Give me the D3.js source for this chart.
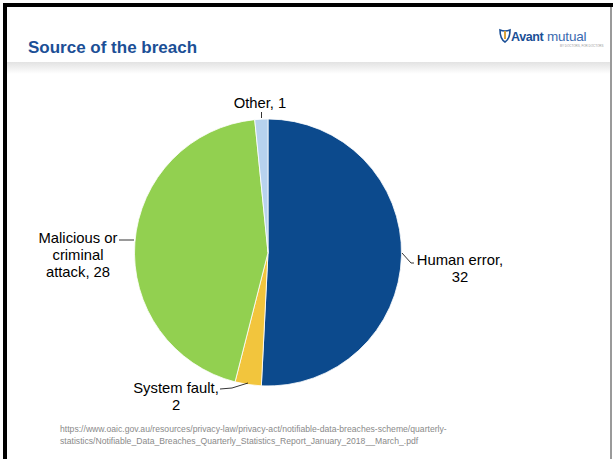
<!DOCTYPE html>
<html>
<head>
<meta charset="utf-8">
<script src="https://cdn.jsdelivr.net/npm/d3@7/dist/d3.min.js"></script>
<style>
  body { margin: 0; background: #fff; }
  svg { display: block; font-family: "Liberation Sans", Arial, sans-serif; }
</style>
</head>
<body>
<div id="chart"></div>
<script>
const categories = ["Human error", "System fault", "Malicious or criminal attack", "Other"];
const values = [32, 2, 28, 1];
const colors = ["#0c4a8d", "#f2c53d", "#92d050", "#b7d2ee"];

const W = 613, H = 459;

const svg = d3.select("#chart")
  .append("svg")
  .attr("width", W)
  .attr("height", H);

// frame + header
const defs = svg.append("defs");
const grad = defs.append("linearGradient")
  .attr("id", "hdr")
  .attr("x1", 0).attr("y1", 0).attr("x2", 0).attr("y2", 1);
grad.append("stop").attr("offset", "0%").attr("stop-color", "#e2e2e2");
grad.append("stop").attr("offset", "100%").attr("stop-color", "#ffffff");

svg.append("rect").attr("x", 0).attr("y", 0).attr("width", W).attr("height", H).attr("fill", "#fff");
svg.append("rect").attr("x", 7).attr("y", 62).attr("width", W - 9).attr("height", 12).attr("fill", "url(#hdr)");
svg.append("rect").attr("x", 3).attr("y", 3).attr("width", W - 3).attr("height", 4).attr("fill", "#000");
svg.append("rect").attr("x", 3).attr("y", 3).attr("width", 4).attr("height", H - 3).attr("fill", "#000");
svg.append("rect").attr("x", 610).attr("y", 7).attr("width", 2).attr("height", H - 7).attr("fill", "#9a9a9a");

svg.append("text")
  .attr("x", 28)
  .attr("y", 53)
  .attr("font-size", 17)
  .attr("font-weight", "bold")
  .attr("fill", "#1b4f96")
  .text("Source of the breach");

// logo
const logo = svg.append("g").attr("transform", "translate(500,30)");
logo.append("path")
  .attr("d", "M0,0 Q0,9 5,12 Q10,9 10,0 Q5,2 0,0 Z")
  .attr("fill", "none")
  .attr("stroke", "#1b4f96")
  .attr("stroke-width", 1.6);
logo.append("rect").attr("x", 4).attr("y", 1).attr("width", 2).attr("height", 8).attr("fill", "#d9a23a");
logo.append("text")
  .attr("x", 11)
  .attr("y", 11)
  .attr("font-size", 12.5)
  .attr("font-weight", "bold")
  .attr("letter-spacing", -0.4)
  .attr("fill", "#1b4f96")
  .text("Avant");
logo.append("text")
  .attr("x", 47)
  .attr("y", 11)
  .attr("font-size", 13.5)
  .attr("fill", "#3a6bb0")
  .attr("letter-spacing", -0.2)
  .text("mutual");
logo.append("text")
  .attr("x", 60)
  .attr("y", 17)
  .attr("font-size", 3)
  .attr("fill", "#999")
  .text("BY DOCTORS, FOR DOCTORS");

// pie
const cx = 268, cy = 252.5, r = 133.5;
const pie = d3.pie().sort(null).value(d => d);
const arcs = pie(values);
const arc = d3.arc().innerRadius(0).outerRadius(r);

const g = svg.append("g").attr("transform", `translate(${cx},${cy})`);
g.selectAll("path")
  .data(arcs)
  .enter()
  .append("path")
  .attr("d", arc)
  .attr("fill", (d, i) => colors[i])
  .attr("stroke", "#fff")
  .attr("stroke-width", 0.8);

// labels with leader lines
const labels = [
  { lines: ["Human error,", "32"], x: 460, y: 265, line: [[402, 253], [411, 263], [414, 263]] },
  { lines: ["System fault,", "2"], x: 176, y: 393, line: [[248, 383], [232, 388], [220, 389]] },
  { lines: ["Malicious or", "criminal", "attack, 28"], x: 78, y: 243, line: [[134, 240], [119, 240]] },
  { lines: ["Other, 1"], x: 260, y: 108, line: [[261.5, 118], [261.5, 112]] }
];

const fs = 14.8;
labels.forEach((lab, i) => {
  svg.append("path")
    .attr("d", d3.line()(lab.line))
    .attr("fill", "none")
    .attr("stroke", "#000")
    .attr("stroke-width", 0.8);
  const t = svg.append("text")
    .attr("text-anchor", "middle")
    .attr("font-size", fs)
    .attr("fill", "#000");
  lab.lines.forEach((s, k) => {
    t.append("tspan")
      .attr("x", lab.x)
      .attr("y", lab.y + k * 17.2)
      .text(s);
  });
});

// source
const src = svg.append("text")
  .attr("font-size", 8.65)
  .attr("fill", "#8a8a8a");
src.append("tspan").attr("x", 60).attr("y", 432)
  .text("https://www.oaic.gov.au/resources/privacy-law/privacy-act/notifiable-data-breaches-scheme/quarterly-");
src.append("tspan").attr("x", 60).attr("y", 444)
  .text("statistics/Notifiable_Data_Breaches_Quarterly_Statistics_Report_January_2018__March_.pdf");
</script>
</body>
</html>
